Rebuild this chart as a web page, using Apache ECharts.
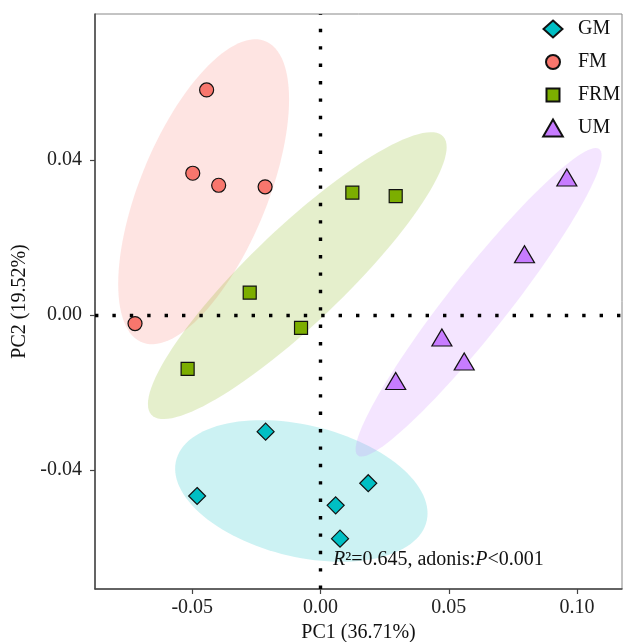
<!DOCTYPE html>
<html>
<head>
<meta charset="utf-8">
<script src="https://cdn.jsdelivr.net/npm/echarts@6/dist/echarts.min.js"></script>
<style>html,body{margin:0;padding:0;background:#fff;}#c{width:625px;height:642px;}</style>
</head>
<body>
<div id="c"></div>
<script>
// ---- data ----
const groups = ['GM', 'FM', 'FRM', 'UM'];
const gmX = [-0.0214, -0.0481, 0.0186, 0.0059, 0.0076];
const gmY = [-0.0301, -0.0467, -0.0434, -0.0491, -0.0577];
const fmX = [-0.0444, -0.0498, -0.0397, -0.0216, -0.0723];
const fmY = [0.0581, 0.0366, 0.0335, 0.0331, -0.0022];
const frmX = [-0.0276, 0.0124, 0.0293, -0.0076, -0.0518];
const frmY = [0.0058, 0.0316, 0.0307, -0.0033, -0.0139];
const umX = [0.0960, 0.0795, 0.0473, 0.0560, 0.0293];
const umY = [0.0355, 0.0157, -0.0058, -0.0120, -0.0170];
const xTicks = [-0.05, 0.00, 0.05, 0.10];
const yTicks = [-0.04, 0.00, 0.04];
const xTitle = 'PC1 (36.71%)';
const yTitle = 'PC2 (19.52%)';
const ellipseLevel = 0.7;

// ---- styles ----
const FONT = '"Liberation Serif", "Times New Roman", serif';
const colors = {GM: '#00BFC4', FM: '#F8766D', FRM: '#7CAE00', UM: '#C77CFF'};
const fills = {GM: 'rgba(0,191,196,0.2)', FM: 'rgba(248,118,109,0.2)', FRM: 'rgba(124,174,0,0.2)', UM: 'rgba(199,124,255,0.2)'};
const symbols = {GM: 'diamond', FM: 'circle', FRM: 'rect', UM: 'triangle'};
const sizes = {GM: [17, 17], FM: 14, FRM: 13, UM: [20, 17]};
// legend icons in a 20x18 box (the leading moveTos fix the box)
const legendIcons = {
  GM: 'path://M0,0M20,18M10,0.5L19.5,9L10,17.5L0.5,9Z',
  FM: 'path://M0,0M20,18M3,9A7,7 0 1,0 17,9A7,7 0 1,0 3,9Z',
  FRM: 'path://M0,0M20,18M3.5,2.5L16.5,2.5L16.5,15.5L3.5,15.5Z',
  UM: 'path://M0,0M20,18M10,0.5L19.8,17.5L0.2,17.5Z'
};
const dataX = {GM: gmX, FM: fmX, FRM: frmX, UM: umX};
const dataY = {GM: gmY, FM: fmY, FRM: frmY, UM: umY};

function ellipse(xs, ys, level) {
  const n = xs.length;
  const mx = xs.reduce((a, b) => a + b, 0) / n;
  const my = ys.reduce((a, b) => a + b, 0) / n;
  let a = 0, b = 0, c = 0;
  for (let i = 0; i < n; i++) {
    const dx = xs[i] - mx, dy = ys[i] - my;
    a += dx * dx; b += dx * dy; c += dy * dy;
  }
  a /= (n - 1); b /= (n - 1); c /= (n - 1);
  const d = n - 1;
  const qf = (d / 2) * (Math.pow(1 - level, -2 / d) - 1);
  const r = Math.sqrt(2 * qf);
  const l11 = Math.sqrt(a), l21 = b / l11, l22 = Math.sqrt(c - l21 * l21);
  const pts = [];
  for (let k = 0; k < 120; k++) {
    const t = 2 * Math.PI * k / 120;
    const u = Math.cos(t), v = Math.sin(t);
    pts.push([mx + r * l11 * u, my + r * (l21 * u + l22 * v)]);
  }
  return {center: [mx, my], pts: pts};
}

const series = [];
groups.forEach(g => {
  const e = ellipse(dataX[g], dataY[g], ellipseLevel);
  series.push({
    type: 'custom', name: g + ' ellipse', silent: true, z: 1,
    data: [e.center],
    renderItem: function (params, api) {
      return {type: 'polygon', shape: {points: e.pts.map(p => api.coord(p))}, style: {fill: fills[g]}};
    }
  });
});
series.push({
  type: 'scatter', name: 'zero', data: [], z: 2, silent: true,
  markLine: {
    silent: true, symbol: 'none', label: {show: false},
    lineStyle: {color: '#000', width: 3.4, type: [3.4, 14], cap: 'butt'},
    data: [{xAxis: 0}, {yAxis: 0}]
  }
});
groups.forEach(g => {
  series.push({
    type: 'scatter', name: g, z: 5,
    symbol: symbols[g], symbolSize: sizes[g],
    itemStyle: {color: colors[g], borderColor: '#111', borderWidth: 1.2, opacity: 1},
    data: dataX[g].map((x, i) => [x, dataY[g][i]])
  });
});

const chart = echarts.init(document.getElementById('c'), null, {renderer: 'canvas'});
chart.setOption({
  animation: false,
  backgroundColor: '#fff',
  grid: {left: 95, top: 14, right: 3, bottom: 53, show: true, borderColor: '#888', borderWidth: 1,
    containLabel: false, outerBoundsMode: 'none'},
  legend: {
    data: groups.map(g => ({name: g, icon: legendIcons[g]})),
    orient: 'vertical', left: 537, top: 14,
    itemWidth: 20, itemHeight: 18, itemGap: 13,
    textStyle: {fontFamily: FONT, fontSize: 20, color: '#111', padding: [0, 0, 0, 10]}
  },
  xAxis: {
    type: 'value', min: -0.0879, max: 0.1175,
    name: xTitle, nameLocation: 'middle', nameGap: 27,
    nameTextStyle: {fontFamily: FONT, fontSize: 20, color: '#111'},
    axisLine: {show: true, onZero: false, lineStyle: {color: '#444', width: 1.5}},
    axisTick: {show: true, length: 5, customValues: xTicks, lineStyle: {color: '#444', width: 1.2}},
    axisLabel: {customValues: xTicks, margin: 9, fontFamily: FONT, fontSize: 20, color: '#222',
      formatter: v => v.toFixed(2)},
    splitLine: {show: false}
  },
  yAxis: {
    type: 'value', min: -0.0707, max: 0.0777,
    name: yTitle, nameLocation: 'middle', nameGap: 64,
    nameTextStyle: {fontFamily: FONT, fontSize: 20, color: '#111'},
    axisLine: {show: true, onZero: false, lineStyle: {color: '#444', width: 1.5}},
    axisTick: {show: true, length: 5, customValues: yTicks, lineStyle: {color: '#444', width: 1.2}},
    axisLabel: {customValues: yTicks, margin: 13, fontFamily: FONT, fontSize: 20, color: '#222',
      formatter: v => v.toFixed(2)},
    splitLine: {show: false}
  },
  graphic: [{
    type: 'text', left: 333, top: 550, z: 10,
    style: {
      text: '{i|R}²=0.645, adonis:{i|P}<0.001',
      font: '20px ' + FONT, fill: '#111',
      rich: {i: {fontStyle: 'italic', fontFamily: FONT, fontSize: 20, fill: '#111'}}
    }
  }],
  series: series
});
</script>
</body>
</html>
